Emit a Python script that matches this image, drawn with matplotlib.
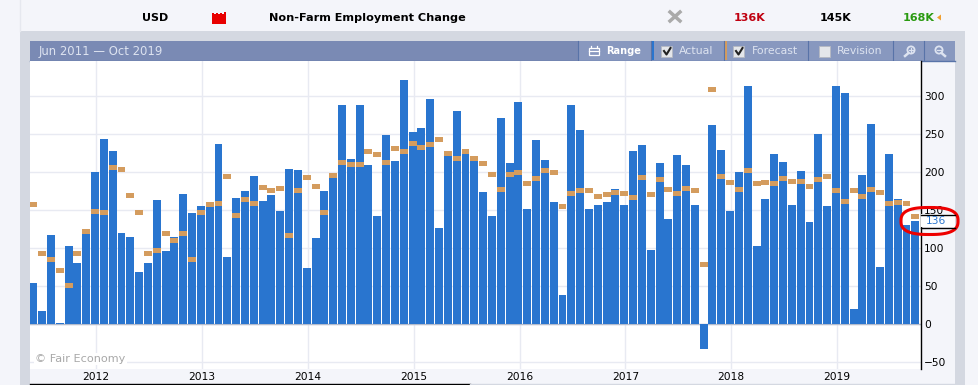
import numpy as np
from matplotlib import pyplot as plt
from matplotlib.patches import Polygon, Rectangle, Circle

# monthly values Jun 2011 - Oct 2019, in thousands
actual = [54, 17, 117, 1, 103, 80, 118,
          200, 243, 228, 120, 114, 68, 80, 163, 96, 114, 171, 146,
          155, 154, 237, 88, 166, 175, 195, 162, 170, 149, 204, 203,
          74, 113, 175, 192, 288, 217, 288, 209, 142, 249, 214, 321,
          253, 258, 296, 126, 221, 280, 224, 214, 174, 142, 271, 212,
          292, 151, 242, 216, 160, 38, 288, 255, 151, 157, 160, 178,
          157, 228, 236, 97, 212, 138, 222, 209, 157, -33, 262, 229,
          149, 200, 313, 103, 164, 224, 213, 157, 201, 134, 250, 155,
          313, 304, 20, 196, 263, 75, 224, 164, 130, 136]
forecast = [157, 93, 85, 71, 51, 93, 122,
            148, 147, 206, 203, 169, 147, 93, 97, 119, 110, 119, 85,
            147, 157, 159, 194, 143, 164, 159, 180, 175, 178, 117, 176,
            193, 181, 147, 196, 213, 210, 210, 227, 223, 213, 231, 227,
            238, 232, 236, 243, 224, 218, 227, 218, 211, 197, 177, 197,
            199, 185, 192, 202, 199, 155, 172, 176, 176, 168, 171, 173,
            172, 167, 193, 171, 190, 177, 172, 178, 176, 78, 309, 194,
            186, 177, 202, 185, 186, 185, 192, 188, 188, 181, 190, 194,
            176, 161, 176, 168, 177, 173, 159, 160, 159, 142]
years = [2012, 2013, 2014, 2015, 2016, 2017, 2018, 2019]
y_ticks = [-50, 0, 50, 100, 150, 200, 250, 300]

W, H = 979, 385
BLUE = "#2975cf"
TAN = "#d49c5e"
GRID = "#e8eaf2"
PAGE = "#f4f5fa"
PANEL = "#d4d8e1"
HEADER = "#7a8ab4"
BUTTON = "#8898bf"
LABEL = "#dde3f0"

fig = plt.figure(figsize=(W / 100, H / 100), dpi=100, facecolor=PAGE)
plt.rcParams["font.family"] = ["DejaVu Sans"]

# page chrome, in pixel coordinates
bg = fig.add_axes([0, 0, 1, 1], zorder=0)
bg.set_xlim(0, W)
bg.set_ylim(H, 0)
bg.axis("off")
bg.plot([20.5, 20.5], [0, 31], color="#e6e8ef", lw=1)
bg.add_patch(Rectangle((20, 31), 945, H - 31, color=PANEL, lw=0))
bg.add_patch(Rectangle((30, 41), 925, H - 41, color=PAGE, lw=0))
bg.add_patch(Rectangle((30, 41), 925, 20, color=HEADER, lw=0))
bg.add_patch(Rectangle((578, 41), 377, 20, color=BUTTON, lw=0))
bg.plot([30, 955], [60.5, 60.5], color="#5873a8", lw=1)
for xpos in [578, 651, 724, 808, 893, 924]:
    bg.plot([xpos + 0.5] * 2, [41, 60], color="#5873a8", lw=0.8)
bg.add_patch(Rectangle((651, 41), 3, 19, color=BLUE, lw=0))
bg.add_patch(Rectangle((724, 41), 3, 19, color=TAN, lw=0))
bg.plot([30, 470], [383.5, 383.5], color="black", lw=1)
bg.plot([470, 955], [383.5, 383.5], color=PANEL, lw=1)

bg.text(142, 18, "USD", fontsize=8, fontweight="bold", va="center")
bg.text(269, 18, "Non-Farm Employment Change", fontsize=8.1, fontweight="bold", va="center")
bg.text(734, 18, "136K", fontsize=8, fontweight="bold", va="center", ha="left", color="#c00010")
bg.text(820, 18, "145K", fontsize=8, fontweight="bold", va="center", ha="left", color="black")
bg.text(903, 18, "168K", fontsize=8, fontweight="bold", va="center", ha="left", color="#2a9a10")
bg.add_patch(Polygon([(937, 17.5), (941, 14.5), (941, 20.5)], color="#f0a030", lw=0))
bg.plot([670, 680], [12, 21], color="#aaaaaa", lw=2.5)
bg.plot([670, 680], [21, 12], color="#aaaaaa", lw=2.5)
bg.add_patch(Polygon([(212, 24), (212, 13), (214, 13), (214, 14), (216, 14), (216, 13), (218, 13),
                      (218, 14), (220, 14), (220, 13), (222, 13), (222, 14), (224, 14),
                      (224, 12), (226, 12), (226, 24)], color="#e80000", lw=0))

bg.text(38.5, 51, "Jun 2011 \u2014 Oct 2019", fontsize=8.4, color=LABEL, va="center")
bg.text(606, 51, "Range", fontsize=7.1, fontweight="bold", color="white", va="center")
bg.text(679, 51, "Actual", fontsize=7.9, color=LABEL, va="center")
bg.text(751.5, 51, "Forecast", fontsize=7.85, color=LABEL, va="center")
bg.text(837, 51, "Revision", fontsize=7.8, color=LABEL, va="center")
bg.add_patch(Rectangle((589, 48), 10, 7, fill=False, ec="white", lw=0.9))
bg.plot([589, 599], [51, 51], color="white", lw=0.9)
bg.plot([591, 591], [46, 48], color="white", lw=0.9)
bg.plot([597, 597], [46, 48], color="white", lw=0.9)
for xpos, checked in [(662, True), (734, True), (820, False)]:
    bg.add_patch(Rectangle((xpos - 0.5, 46), 11, 11, fc="#e4e6ea", ec="#b5b9c2", lw=0.6))
    if checked:
        bg.plot([xpos + 2, xpos + 4.5, xpos + 8.5], [51, 54.5, 48], color="#222222", lw=1.5)
# zoom in / zoom out buttons
bg.add_patch(Circle((911, 50), 3.6, fill=False, ec=LABEL, lw=1.3))
bg.plot([908.5, 905], [53, 56], color=LABEL, lw=1.8)
bg.plot([909, 913], [50, 50], color=LABEL, lw=0.9)
bg.plot([911, 911], [48, 52], color=LABEL, lw=0.9)
bg.add_patch(Circle((939, 50), 3.6, fill=False, ec=LABEL, lw=1.3))
bg.plot([941.5, 945], [53, 56], color=LABEL, lw=1.8)
bg.plot([937, 941], [50, 50], color=LABEL, lw=0.9)

# chart area
ax = fig.add_axes([30 / W, 1 - 369 / H, (921.5 - 30) / W, (369 - 61) / H], zorder=1)
ax.set_facecolor("white")
x = np.arange(len(actual))
ax.bar(x, actual, width=0.9, color=BLUE, zorder=3)
ax.bar(x, [6.6] * len(forecast), bottom=np.array(forecast) - 3.3, width=0.9, color=TAN, zorder=4)
ax.set_xlim(-0.374, 100.7)
ax.set_ylim(-59.2, 346)
ax.axhline(0, color="#b4bccc", lw=1, zorder=2)
ax.set_axisbelow(True)
ax.grid(True, color=GRID, lw=1)
ax.yaxis.tick_right()
ax.set_yticks(y_ticks)
ax.set_xticks([(yr - 2012) * 12 + 7.13 for yr in years])
ax.set_xticklabels(years)
ax.tick_params(length=0, labelsize=7.7, colors="black", pad=2)
ax.tick_params(axis="x", pad=2.5)
for side in ["top", "left", "bottom"]:
    ax.spines[side].set_visible(False)
ax.spines["right"].set_linewidth(1)

# overlay: watermark, last value flag, hand drawn ring
top = fig.add_axes([0, 0, 1, 1], zorder=2)
top.set_xlim(0, W)
top.set_ylim(H, 0)
top.axis("off")
top.text(35, 359, "\u00a9 Fair Economy", fontsize=8.1, color="#a8a8a8", va="center",
         bbox=dict(fc="white", ec="none", pad=1))
top.add_patch(Rectangle((921, 214), 34, 13, fc="white", ec="none"))
top.plot([921, 955], [214.5, 214.5], color="black", lw=1)
top.plot([921, 955], [227.5, 227.5], color="black", lw=1)
top.text(925.5, 221, str(actual[-1]), fontsize=7.7, color=BLUE, va="center")
t = np.linspace(0, 2 * np.pi, 120)
ring_x = 929.5 + 28.5 * np.sign(np.cos(t)) * np.abs(np.cos(t)) ** 0.75
ring_y = 221 + 13.5 * np.sign(np.sin(t)) * np.abs(np.sin(t)) ** 0.75
top.add_patch(Polygon(np.column_stack([ring_x, ring_y]), closed=True, fill=False, ec="#ee0000", lw=2.2))

fig.savefig("out.png", dpi=100, facecolor=PAGE)
